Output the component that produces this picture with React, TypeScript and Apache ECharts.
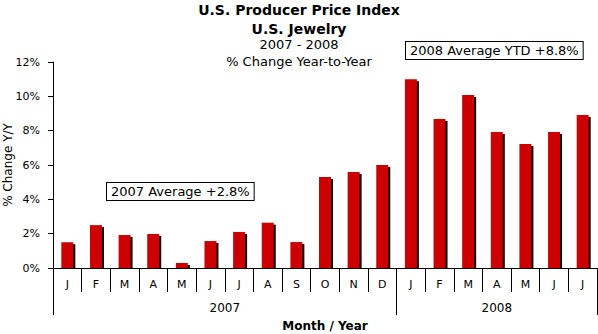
import React, { useEffect, useRef } from "react";
import * as echarts from "echarts";

const monthLetters = ["J", "F", "M", "A", "M", "J", "J", "A", "S", "O", "N", "D", "J", "F", "M", "A", "M", "J", "J"];
const periods = [
  "2007-01", "2007-02", "2007-03", "2007-04", "2007-05", "2007-06", "2007-07", "2007-08", "2007-09", "2007-10", "2007-11", "2007-12",
  "2008-01", "2008-02", "2008-03", "2008-04", "2008-05", "2008-06", "2008-07",
];
const changeYY = [1.5, 2.5, 1.92, 1.98, 0.29, 1.57, 2.1, 2.64, 1.51, 5.3, 5.59, 6.0, 11.0, 8.68, 10.08, 7.92, 7.22, 7.92, 8.91];
const years = ["2007", "2008"];
const yearMonthCounts = [12, 7];
const yTicks = [0, 2, 4, 6, 8, 10, 12];
const notes = ["2007 Average +2.8%", "2008 Average YTD +8.8%"];

const FONT = "'DejaVu Sans', Verdana, sans-serif";

export default function App() {
  const ref = useRef<HTMLDivElement>(null);
  useEffect(() => {
    if (!ref.current) return;
    const chart = echarts.init(ref.current, null, { renderer: "svg" });

    const bounds: number[] = [0];
    const centres: number[] = [];
    yearMonthCounts.forEach((c) => {
      const start = bounds[bounds.length - 1];
      centres.push(start + c / 2);
      bounds.push(start + c);
    });

    chart.setOption({
      animation: false,
      backgroundColor: "#fff",
      textStyle: { fontFamily: FONT, color: "#000" },
      title: [
        {
          text: "U.S. Producer Price Index\nU.S. Jewelry",
          left: "center",
          top: 0,
          padding: 0,
          textStyle: { fontFamily: FONT, fontSize: 14, fontWeight: "bold", color: "#000", lineHeight: 19 },
        },
        {
          text: "2007 - 2008\n% Change Year-to-Year",
          left: "center",
          top: 36,
          padding: 0,
          textStyle: { fontFamily: FONT, fontSize: 13, fontWeight: "normal", color: "#000", lineHeight: 17 },
        },
      ],
      grid: { left: 53, right: 1, top: 62, bottom: 66, containLabel: false, outerBoundsMode: "none" },
      xAxis: [
        {
          type: "category",
          data: periods,
          position: "bottom",
          name: "Month / Year",
          nameLocation: "middle",
          nameGap: 52,
          nameMoveOverlap: false,
          nameTextStyle: { fontFamily: FONT, fontSize: 12, fontWeight: "bold", color: "#000" },
          axisLine: { show: true, lineStyle: { color: "#000", width: 1 } },
          axisTick: { show: true, interval: 0, length: 24, lineStyle: { color: "#000" } },
          axisLabel: {
            interval: 0,
            margin: 11,
            fontFamily: FONT,
            fontSize: 11,
            color: "#000",
            formatter: (_v: string, i: number) => monthLetters[i],
          },
          splitLine: { show: false },
        },
        {
          type: "value",
          position: "bottom",
          min: 0,
          max: periods.length,
          axisLine: { show: false },
          axisTick: { show: true, customValues: bounds, length: 47, lineStyle: { color: "#000" } },
          axisLabel: {
            customValues: centres,
            margin: 34,
            fontFamily: FONT,
            fontSize: 12,
            color: "#000",
            formatter: (v: number) => years[centres.indexOf(v)] ?? "",
          },
          splitLine: { show: false },
        },
      ],
      yAxis: {
        type: "value",
        min: yTicks[0],
        max: yTicks[yTicks.length - 1],
        interval: yTicks[1] - yTicks[0],
        name: "% Change Y/Y",
        nameLocation: "middle",
        nameGap: 39,
        nameMoveOverlap: false,
        nameTextStyle: { fontFamily: FONT, fontSize: 12, color: "#000" },
        axisLine: { show: true, lineStyle: { color: "#000" } },
        axisTick: { show: true, length: 5, lineStyle: { color: "#000" } },
        axisLabel: { margin: 13, fontFamily: FONT, fontSize: 11, color: "#000", formatter: "{value}%" },
        splitLine: { show: false },
      },
      series: [
        {
          type: "custom",
          xAxisIndex: 0,
          yAxisIndex: 0,
          data: changeYY.map((v, i) => [i, v]),
          renderItem: (_params: any, api: any) => {
            const top = api.coord([api.value(0), api.value(1)]);
            const base = api.coord([api.value(0), 0]);
            const w = 12;
            const h = base[1] - top[1];
            return {
              type: "group",
              children: [
                {
                  type: "rect",
                  shape: { x: top[0] - w / 2 + 2, y: top[1] + 2, width: w, height: Math.max(0, h - 2) },
                  style: { fill: "#000" },
                },
                {
                  type: "rect",
                  shape: { x: top[0] - w / 2, y: top[1], width: w, height: h },
                  style: { fill: "#CC0000" },
                },
              ],
            };
          },
        },
      ],
      graphic: [
        {
          type: "text",
          left: 106,
          top: 182,
          z: 100,
          style: {
            text: notes[0],
            font: `13px ${FONT}`,
            fill: "#000",
            backgroundColor: "#fff",
            borderColor: "#000",
            borderWidth: 1,
            padding: [2, 4, 2, 4],
          },
        },
        {
          type: "text",
          left: 405,
          top: 41,
          z: 100,
          style: {
            text: notes[1],
            font: `13px ${FONT}`,
            fill: "#000",
            backgroundColor: "#fff",
            borderColor: "#000",
            borderWidth: 1,
            padding: [2, 4, 2, 4],
          },
        },
      ],
    });
    return () => chart.dispose();
  }, []);
  return <div ref={ref} style={{ position: "fixed", left: 0, top: 0, width: 598, height: 334 }} />;
}
